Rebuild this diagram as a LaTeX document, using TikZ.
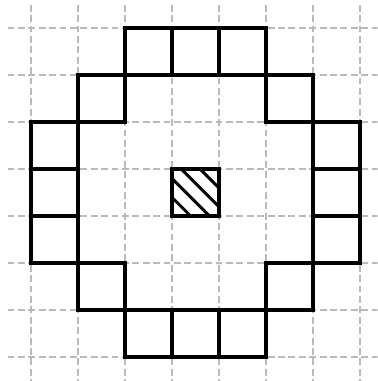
\documentclass[tikz,border=0pt]{standalone}
\usepackage{tikz}
\usetikzlibrary{calc}

\begin{document}
\begin{tikzpicture}[
  gridline/.style={black!27, line width=1.2pt, dash pattern=on 4.2pt off 2.1pt},
  cell/.style={draw=black, line width=2.7pt},
  hatchline/.style={black, line width=1.8pt}
]
% Frame of the picture
\clip (-0.66,0.6) rectangle (7.38,-7.51);
\useasboundingbox (-0.66,0.6) rectangle (7.38,-7.51);

% Background grid
\foreach \i in {0,...,7} {
  \draw[gridline] (\i,0.5) -- (\i,-7.5);
  \draw[gridline] (-0.5,-\i) -- (7.5,-\i);
}

% Hatched centre cell
\begin{scope}
  \clip (3,-3) rectangle (4,-4);
  \foreach \k in {-0.6,-0.2,0.2,0.6}
    \draw[hatchline] ($(3.5,-3.5)+(\k/2,\k/2)+(-1,1)$) -- ($(3.5,-3.5)+(\k/2,\k/2)+(1,-1)$);
\end{scope}
\draw[cell] (3,-3) rectangle (4,-4);

% Ring of cells (column/row)
\foreach \c/\r in {2/0,3/0,4/0, 1/1,5/1, 0/2,6/2, 0/3,6/3, 0/4,6/4, 1/5,5/5, 2/6,3/6,4/6}
  \draw[cell] (\c,-\r) rectangle ++(1,-1);
\end{tikzpicture}
\end{document}
